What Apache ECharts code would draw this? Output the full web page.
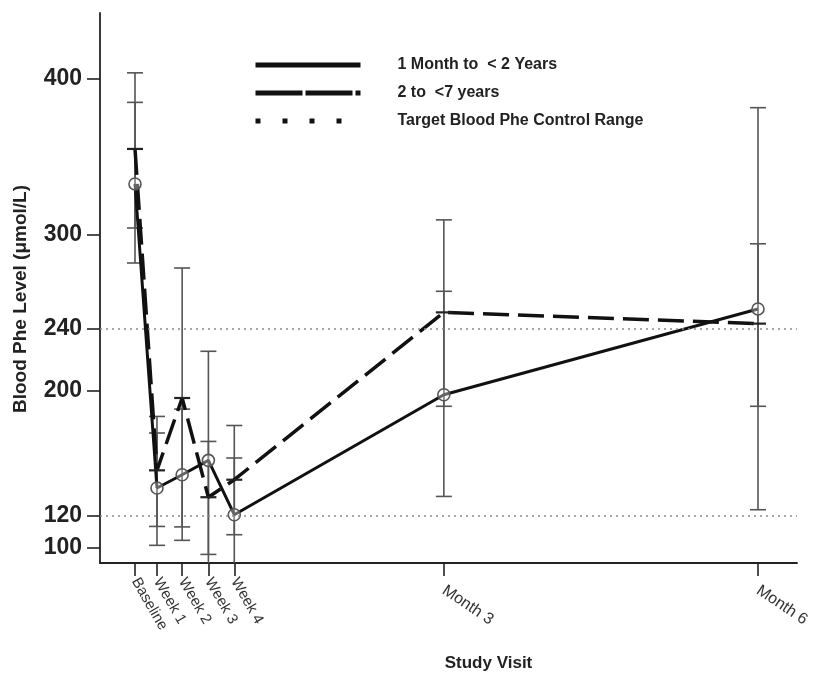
<!DOCTYPE html>
<html>
<head>
<meta charset="utf-8">
<script src="https://cdn.jsdelivr.net/npm/echarts@6/dist/echarts.min.js"></script>
<style>
html,body{margin:0;padding:0;background:#fff;}
#chart{width:813px;height:674px;}
</style>
</head>
<body>
<div id="chart"></div>
<script>
// ---- data ----
const xLabels = ['Baseline', 'Week 1', 'Week 2', 'Week 3', 'Week 4', 'Month 3', 'Month 6'];
const xDays = [0, 6.2, 13.3, 20.7, 28, 87.1, 175.7];            // study day of each visit
const seriesNames = ['1 Month to  < 2 Years', '2 to  <7 years', 'Target Blood Phe Control Range'];
const youngMean = [332.6, 138.0, 146.5, 155.7, 120.9, 197.7, 252.6];
const youngLow  = [282.0, 101.3, 104.5, 85.9, 84.6, 132.6, 124.1];
const youngHigh = [384.8, 173.2, 188.5, 225.5, 157.2, 263.9, 381.4];
const olderMean = [355.0, 149.3, 195.6, 132.1, 143.3, 250.4, 243.2];
const olderLow  = [304.4, 113.4, 113.1, 95.5, 108.1, 190.3, 190.3];
const olderHigh = [403.7, 183.8, 278.8, 167.8, 178.0, 309.6, 294.3];
const targetRange = [120, 240];
const yTickValues = [100, 120, 200, 240, 300, 400];
const weekTicks = xDays.slice(0, 5);
const monthTicks = xDays.slice(5);

// ---- build ----
const FONT = '"Liberation Sans", Arial, sans-serif';
const pairs = (xs, ys) => xs.map((x, i) => [x, ys[i]]);
const errData = (lo, hi) => xDays.map((x, i) => [x, lo[i], hi[i]]);
const labelFor = v => { const i = xDays.indexOf(v); return i >= 0 ? xLabels[i] : ''; };

function errorBarRender(params, api) {
  const x = api.value(0);
  const pLo = api.coord([x, api.value(1)]);
  const pHi = api.coord([x, api.value(2)]);
  const hw = 8;
  const st = { stroke: '#555', lineWidth: 1.6 };
  return {
    type: 'group',
    children: [
      { type: 'line', shape: { x1: pLo[0], y1: pLo[1], x2: pHi[0], y2: pHi[1] }, style: st },
      { type: 'line', shape: { x1: pLo[0] - hw, y1: pLo[1], x2: pLo[0] + hw, y2: pLo[1] }, style: st },
      { type: 'line', shape: { x1: pHi[0] - hw, y1: pHi[1], x2: pHi[0] + hw, y2: pHi[1] }, style: st }
    ]
  };
}
function circleRender(params, api) {
  const p = api.coord([api.value(0), api.value(1)]);
  return { type: 'circle', shape: { cx: p[0], cy: p[1], r: 6 },
           style: { fill: 'rgba(255,255,255,0.35)', stroke: '#555', lineWidth: 1.6 } };
}
function dashRender(params, api) {
  const p = api.coord([api.value(0), api.value(1)]);
  return { type: 'line', shape: { x1: p[0] - 8, y1: p[1], x2: p[0] + 8, y2: p[1] },
           style: { stroke: '#222', lineWidth: 2.2 } };
}

const xCommon = { type: 'value', min: -9.87, max: 186.7, splitLine: { show: false } };
const hiddenSymbol = { opacity: 0, borderWidth: 0 };

const option = {
  animation: false,
  backgroundColor: '#fff',
  grid: { left: 100, right: 16, top: 13, bottom: 111, containLabel: false, outerBoundsMode: 'none' },
  legend: {
    orient: 'vertical', left: 248, top: 52,
    itemWidth: 105, itemHeight: 14, itemGap: 12,
    textStyle: { fontFamily: FONT, fontWeight: 'bold', fontSize: 16, color: '#222', padding: [0, 0, 0, 32] },
    selectedMode: false,
    data: [
      { name: seriesNames[0], itemStyle: hiddenSymbol, lineStyle: { type: 'solid', width: 5, color: '#111' } },
      { name: seriesNames[1], itemStyle: hiddenSymbol, lineStyle: { type: [47, 3], width: 5, color: '#111' } },
      { name: seriesNames[2], itemStyle: hiddenSymbol, lineStyle: { type: [5, 22], width: 5, color: '#111' } }
    ]
  },
  xAxis: [
    Object.assign({}, xCommon, {
      name: 'Study Visit', nameLocation: 'middle', nameGap: 92,
      nameTextStyle: { fontFamily: FONT, fontWeight: 'bold', fontSize: 17, color: '#222', padding: [0, 0, 0, 80] },
      axisLine: { show: true, onZero: false, lineStyle: { color: '#222', width: 1.8 } },
      axisTick: { show: true, inside: false, length: 13, customValues: xDays, lineStyle: { color: '#222', width: 1.6 } },
      axisLabel: { show: true, customValues: weekTicks, formatter: labelFor, rotate: -60, margin: 16,
                   fontFamily: FONT, fontSize: 15, color: '#333' }
    }),
    Object.assign({}, xCommon, {
      position: 'bottom',
      axisLine: { show: false, onZero: false },
      axisTick: { show: false },
      axisLabel: { show: true, customValues: monthTicks, formatter: labelFor, rotate: -34, margin: 26,
                   fontFamily: FONT, fontSize: 16, color: '#333' }
    })
  ],
  yAxis: {
    type: 'value', min: 90, max: 442,
    name: 'Blood Phe Level (μmol/L)', nameLocation: 'middle', nameGap: 70, nameRotate: 90,
    nameTextStyle: { fontFamily: FONT, fontWeight: 'bold', fontSize: 19, color: '#222', padding: [0, 22, 0, 0] },
    splitLine: { show: false },
    axisLine: { show: true, onZero: false, lineStyle: { color: '#222', width: 1.8 } },
    axisTick: { show: true, length: 13, customValues: yTickValues, lineStyle: { color: '#222', width: 1.6 } },
    axisLabel: { customValues: yTickValues, margin: 18, fontFamily: FONT, fontWeight: 'bold', fontSize: 23, color: '#222' }
  },
  series: [
    { type: 'custom', name: 'err1', renderItem: errorBarRender, data: errData(youngLow, youngHigh),
      encode: { x: 0, y: [1, 2] }, clip: true, z: 1, silent: true },
    { type: 'custom', name: 'err2', renderItem: errorBarRender, data: errData(olderLow, olderHigh),
      encode: { x: 0, y: [1, 2] }, clip: true, z: 1, silent: true },
    { type: 'line', name: seriesNames[0], data: pairs(xDays, youngMean), symbol: 'none', z: 3,
      lineStyle: { color: '#111', width: 3, type: 'solid' }, itemStyle: { color: '#111' } },
    { type: 'line', name: seriesNames[1], data: pairs(xDays, olderMean), symbol: 'none', z: 3,
      lineStyle: { color: '#111', width: 3.5, type: [26, 9] }, itemStyle: { color: '#111' } },
    { type: 'line', name: seriesNames[2], data: [], symbol: 'none', z: 2,
      lineStyle: { color: '#111', width: 2, type: 'dotted' }, itemStyle: { color: '#111' },
      markLine: { silent: true, symbol: ['none', 'none'], label: { show: false },
                  lineStyle: { color: '#8a8a8a', width: 1.6, type: [2, 4] },
                  data: targetRange.map(v => ({ yAxis: v })) } },
    { type: 'custom', name: 'mk1', renderItem: circleRender, data: pairs(xDays, youngMean),
      encode: { x: 0, y: 1 }, z: 4, silent: true },
    { type: 'custom', name: 'mk2', renderItem: dashRender, data: pairs(xDays, olderMean),
      encode: { x: 0, y: 1 }, z: 4, silent: true }
  ]
};

const chart = echarts.init(document.getElementById('chart'), null, { renderer: 'canvas' });
chart.setOption(option);
</script>
</body>
</html>
